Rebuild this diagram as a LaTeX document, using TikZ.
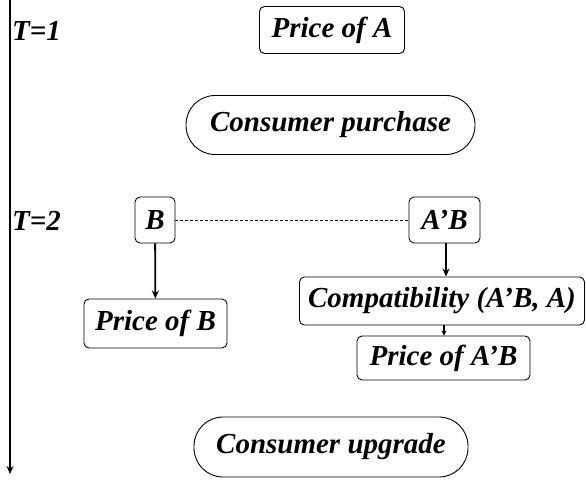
\documentclass[tikz,border=0pt]{standalone}
\usepackage{fontspec}
\setmainfont{Liberation Serif}
\usetikzlibrary{arrows.meta}
\begin{document}
\begin{tikzpicture}[x=1pt,y=-1pt,
  lbl/.style={font=\fontsize{29}{33}\selectfont\bfseries\itshape, inner sep=0pt},
  box/.style={lbl, draw, rounded corners=5pt, line width=0.9pt},
  oval/.style={lbl, draw, rounded corners=29pt, line width=0.9pt},
  arr/.style={line width=1.8pt, -{Stealth[length=8pt,width=7pt]}}]
\useasboundingbox (0,0) rectangle (586,480);
\coordinate (top) at (10,0);
\coordinate (bot) at (10,474);
\draw[arr] (top) -- (bot);
\node[lbl, anchor=west] (t1) at (12,31) {T=1};
\node[lbl, anchor=west] (t2) at (12,221) {T=2};
\node[box, minimum width=145, minimum height=47] (pa) at (332,30) {Price of A};
\node[oval, minimum width=289, minimum height=59] (cp) at (330.5,125) {Consumer purchase};
\node[box, minimum width=40, minimum height=46] (b) at (155,220) {B};
\node[box, minimum width=71, minimum height=46] (ab) at (444.5,220) {A’B};
\node[box, minimum width=143, minimum height=49] (pb) at (155.5,323.5) {Price of B};
\node[box, minimum width=285, minimum height=48] (co) at (442,301) {Compatibility (A’B, A)};
\node[box, minimum width=173, minimum height=44] (pab) at (443.5,358) {Price of A’B};
\node[oval, minimum width=274, minimum height=60] (cu) at (331,447) {Consumer upgrade};
\draw[line width=0.9pt, dash pattern=on 3pt off 2pt] (b) -- (ab);
\draw[arr] (b) -- (pb);
\draw[arr] (ab.south -| 446,0) -- (co.north -| 446,0);
\draw[line width=1.2pt, -{Stealth[length=5pt,width=5pt]}] (co.south -| 444,0) -- (pab.north -| 444,0);
\end{tikzpicture}
\end{document}
